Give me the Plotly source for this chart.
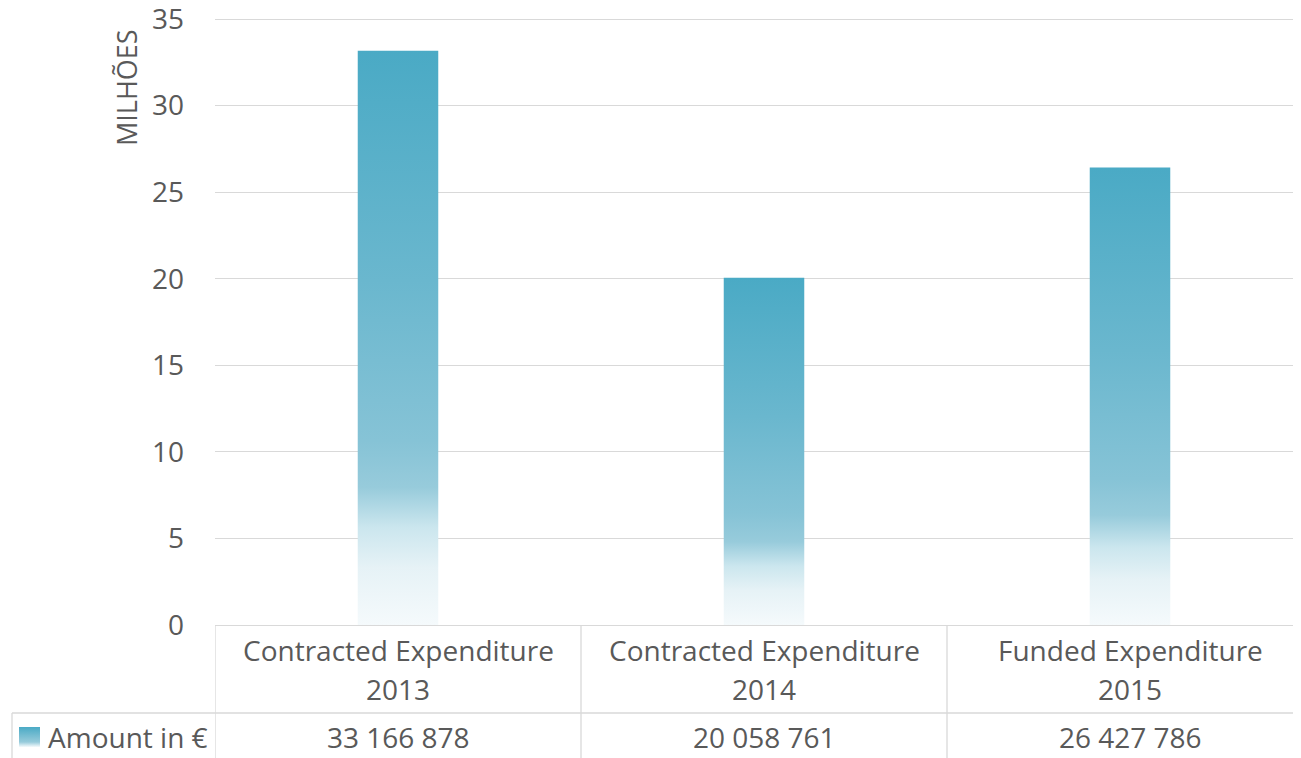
import plotly.graph_objects as go
import base64

# ---- data ----
categories = ["Contracted Expenditure\n2013", "Contracted Expenditure\n2014", "Funded Expenditure\n2015"]
amounts_eur = [33166878, 20058761, 26427786]
series_name = "Amount in €"
y_ticks = [0, 5, 10, 15, 20, 25, 30, 35]
y_title = "MILHÕES"

# ---- style ----
FONT = "Open Sans"
FS = 28
TXT = "#595959"
GRID = "#d9d9d9"
BAR_W = 0.22
grad = [[0, "#f5fafc"], [0.1, "#e6f2f6"], [0.17, "#cbe6ee"], [0.24, "#97cbdb"],
        [0.32, "#86c3d6"], [0.6, "#6ab7ce"], [1, "#4aaac5"]]

OFF = 8  # page body margin
W, H = 1301, 758
Y_TOP_PX, Y_ZERO_PX = 19, 625          # page pixels of 35 and 0
PX_PER_UNIT = (Y_ZERO_PX - Y_TOP_PX) / 35
L, R, T = 215 - OFF, 0, 6
B = H - (Y_ZERO_PX - OFF)
pw, ph = W - L - R, H - T - B
Y_MAX = ph / PX_PER_UNIT
CAT_PX = 366

def px_x(px):
    return (px - OFF - L) / pw

def px_y(py):
    return (H - B - (py - OFF)) / ph

fig = go.Figure()
vals = [a / 1e6 for a in amounts_eur]
for i, v in enumerate(vals):
    x0, x1 = i - BAR_W / 2, i + BAR_W / 2
    fig.add_trace(go.Scatter(
        x=[x0, x1, x1, x0, x0], y=[0, 0, v, v, 0],
        mode="lines", line=dict(width=0), fill="toself",
        fillgradient=dict(type="vertical", colorscale=grad),
        name=series_name, showlegend=False,
        hovertemplate=categories[i].replace("\n", " ") + "<br>"
        + f"{amounts_eur[i]:,}".replace(",", " ") + "<extra></extra>",
    ))

shapes = []
for b in [-0.5, 0.5, 1.5]:
    shapes.append(dict(type="line", xref="x", yref="paper", x0=b, x1=b,
                       y0=0, y1=px_y(H + 20), line=dict(color=GRID, width=1.3)))
shapes.append(dict(type="line", xref="paper", yref="paper", x0=px_x(12), x1=1.02,
                   y0=px_y(713), y1=px_y(713), line=dict(color=GRID, width=1.3)))
shapes.append(dict(type="line", xref="paper", yref="paper", x0=px_x(12), x1=px_x(12),
                   y0=px_y(713), y1=px_y(H + 20), line=dict(color=GRID, width=1.3)))

annotations = []
for i, c in enumerate(categories):
    for j, ln in enumerate(c.split("\n")):
        annotations.append(dict(x=i, xref="x", y=px_y(650 + 39 * j), yref="paper",
                                text=ln, showarrow=False, xanchor="center", yanchor="middle",
                                font=dict(family=FONT, size=FS, color=TXT)))
    annotations.append(dict(x=i, xref="x", y=px_y(737), yref="paper",
                            text=f"{amounts_eur[i]:,}".replace(",", " "), showarrow=False,
                            xanchor="center", yanchor="middle",
                            font=dict(family=FONT, size=FS, color=TXT)))
annotations.append(dict(x=px_x(46), xref="paper", y=px_y(737), yref="paper", text=series_name,
                        showarrow=False, xanchor="left", yanchor="middle",
                        font=dict(family=FONT, size=FS, color=TXT)))
annotations.append(dict(x=px_x(127), xref="paper", y=px_y(88), yref="paper", text=y_title,
                        textangle=-90, showarrow=False, xanchor="center", yanchor="middle",
                        font=dict(family=FONT, size=27, color=TXT)))

svg = ('<svg xmlns="http://www.w3.org/2000/svg" width="21" height="20">'
       '<defs><linearGradient id="g" x1="0" y1="1" x2="0" y2="0">'
       '<stop offset="0" stop-color="#f5fafc"/><stop offset="0.25" stop-color="#97cbdb"/>'
       '<stop offset="1" stop-color="#4aaac5"/></linearGradient></defs>'
       '<rect width="21" height="20" fill="url(#g)"/></svg>')
img = "data:image/svg+xml;base64," + base64.b64encode(svg.encode()).decode()

fig.update_layout(
    width=W, height=H,
    margin=dict(l=L, r=R, t=T, b=B, pad=0, autoexpand=False),
    paper_bgcolor="white", plot_bgcolor="white",
    showlegend=False,
    font=dict(family=FONT, size=FS, color=TXT),
    shapes=shapes, annotations=annotations,
    images=[dict(source=img, xref="paper", yref="paper", x=px_x(19), y=px_y(727),
                 sizex=21 / pw, sizey=20 / ph, xanchor="left", yanchor="top",
                 sizing="stretch", layer="above")],
    xaxis=dict(range=[-0.5, -0.5 + pw / CAT_PX], showgrid=False, zeroline=False,
               showticklabels=False, showline=True, linecolor=GRID, linewidth=1.3,
               fixedrange=True, automargin=False),
    yaxis=dict(range=[0, Y_MAX], tickvals=y_ticks, showgrid=True, gridcolor=GRID, gridwidth=1,
               zeroline=False, showline=False, ticks="", ticklabelstandoff=30,
               ticklabeloverflow="allow", automargin=False,
               tickfont=dict(family=FONT, size=FS, color=TXT), fixedrange=True),
)

fig.write_html("out.html")
